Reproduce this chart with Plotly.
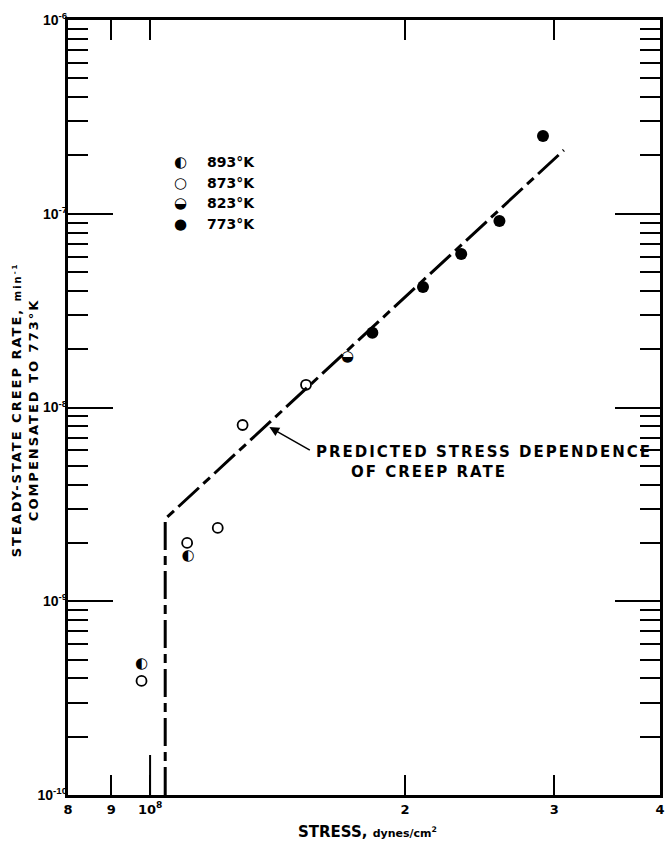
import math
import plotly.graph_objects as go

# ---------------- data ----------------
stress_893 = [9.77e7, 1.109e8]
rate_893 = [4.74e-10, 1.71e-9]

stress_873 = [9.77e7, 1.106e8, 1.202e8, 1.286e8, 1.528e8]
rate_873 = [3.88e-10, 2.00e-9, 2.39e-9, 8.12e-9, 1.31e-8]

stress_823 = [1.711e8]
rate_823 = [1.82e-8]

stress_773 = [1.830e8, 2.10e8, 2.33e8, 2.585e8, 2.91e8]
rate_773 = [2.43e-8, 4.19e-8, 6.2e-8, 9.18e-8, 2.52e-7]

pred_stress = [1.042e8, 1.042e8, 3.08e8]
pred_rate = [1e-10, 2.66e-9, 2.13e-7]

x_tickvals = [8e7, 9e7, 1e8, 2e8, 3e8, 4e8]
x_ticktext = ["8", "9", "10<sup>8</sup>", "2", "3", "4"]
y_tickvals = [1e-10, 1e-9, 1e-8, 1e-7, 1e-6]
y_ticktext = ["10<sup>-10</sup>", "10<sup>-9</sup>", "10<sup>-8</sup>", "10<sup>-7</sup>", "10<sup>-6</sup>"]
y_minor = [k * 10.0 ** e for e in range(-10, -6) for k in range(2, 10)]

legend_labels = ["893°K", "873°K", "823°K", "773°K"]
legend_symbols = ["◐", "○", "◒", "●"]

# ---------------- layout geometry ----------------
W, H = 668, 845
ML, MR, MT, MB = 68, 3, 20, 50
PW, PH = W - ML - MR, H - MT - MB

def px(x):
    return (x - ML) / PW

def py(y):
    return (H - MB - y) / PH

FONT = "DejaVu Sans"
NARROW = "Liberation Sans Narrow, Liberation Sans, DejaVu Sans Condensed"

fig = go.Figure()

# predicted line
fig.add_trace(go.Scatter(
    x=pred_stress, y=pred_rate, mode="lines",
    line=dict(color="black", width=3, dash="28px,6px,9px,6px"),
    hoverinfo="skip", showlegend=False))

# open circles 873 K
fig.add_trace(go.Scatter(
    x=stress_873, y=rate_873, mode="markers",
    marker=dict(symbol="circle-open", size=10, color="black", line=dict(width=1.8, color="black")),
    showlegend=False))

# filled 773 K
fig.add_trace(go.Scatter(
    x=stress_773, y=rate_773, mode="markers",
    marker=dict(symbol="circle", size=12, color="black"),
    showlegend=False))

# half-filled 893 K (left half black)
fig.add_trace(go.Scatter(
    x=stress_893, y=rate_893, mode="text", text=["◐"] * len(stress_893),
    textposition="middle center",
    textfont=dict(family=FONT, size=15, color="black"),
    showlegend=False))

# half-filled 823 K (lower half black)
fig.add_trace(go.Scatter(
    x=stress_823, y=rate_823, mode="text", text=["◒"] * len(stress_823),
    textposition="middle center",
    textfont=dict(family=FONT, size=15, color="black"),
    showlegend=False))

annotations = []
# legend
for i, (sym, lab) in enumerate(zip(legend_symbols, legend_labels)):
    yy = 162 + i * 20.5
    annotations.append(dict(x=px(181), y=py(yy), xref="paper", yref="paper", text=sym,
                            showarrow=False, xanchor="center", yanchor="middle",
                            font=dict(family=FONT, size=15, color="black")))
    annotations.append(dict(x=px(206), y=py(yy), xref="paper", yref="paper", text=lab,
                            showarrow=False, xanchor="left", yanchor="middle",
                            font=dict(family=FONT, size=14, color="black", weight="bold")))

# arrow annotation
annotations.append(dict(x=math.log10(1.383e8), y=math.log10(7.93e-9), xref="x", yref="y",
                        ax=42, ay=24, axref="pixel", ayref="pixel", text="",
                        showarrow=True, arrowhead=2, arrowsize=1.3, arrowwidth=1.5,
                        arrowcolor="black"))
annotations.append(dict(x=px(316), y=py(452), xref="paper", yref="paper",
                        text="<span style='letter-spacing:2px'>PREDICTED STRESS DEPENDENCE</span>",
                        showarrow=False, xanchor="left", yanchor="middle",
                        font=dict(family=FONT, size=15, color="black", weight="bold")))
annotations.append(dict(x=px(351), y=py(472), xref="paper", yref="paper",
                        text="<span style='letter-spacing:2px'>OF CREEP RATE</span>",
                        showarrow=False, xanchor="left", yanchor="middle",
                        font=dict(family=FONT, size=15, color="black", weight="bold")))

# axis titles
annotations.append(dict(x=px(25), y=py(410), xref="paper", yref="paper",
                        text="<span style='letter-spacing:2px'>STEADY-STATE CREEP RATE, <span style='font-size:10px'>min<sup>-1</sup></span></span><br><span style='letter-spacing:2px'>COMPENSATED TO 773°K</span>",
                        showarrow=False, textangle=-90, xanchor="center", yanchor="middle",
                        font=dict(family=FONT, size=13, color="black", weight="bold")))
annotations.append(dict(x=px(370), y=py(832), xref="paper", yref="paper",
                        text="STRESS, <span style='font-size:11px'>dynes/cm<sup>2</sup></span>",
                        showarrow=False, xanchor="center", yanchor="middle",
                        font=dict(family=FONT, size=15, color="black", weight="bold")))

shapes = [
    # longer tick at 10^8 on bottom axis
    dict(type="line", xref="x", yref="paper", x0=1e8, x1=1e8, y0=0, y1=40,
         ysizemode="pixel", yanchor=0, line=dict(color="black", width=2)),
]

fig.update_layout(
    width=W, height=H,
    margin=dict(l=ML, r=MR, t=MT, b=MB),
    paper_bgcolor="white", plot_bgcolor="white",
    font=dict(family=FONT, size=13, color="black"),
    showlegend=False,
    annotations=annotations,
    shapes=shapes,
    xaxis=dict(type="log", range=[math.log10(8e7), math.log10(4e8)],
               tickmode="array", tickvals=x_tickvals, ticktext=x_ticktext,
               ticks="inside", ticklen=20, tickwidth=2, tickcolor="black",
               showline=True, linewidth=3, linecolor="black", mirror="ticks",
               showgrid=False, zeroline=False,
               tickfont=dict(family=FONT, size=13, color="black", weight="bold")),
    yaxis=dict(type="log", range=[-10, -6],
               tickmode="array", tickvals=y_tickvals, ticktext=y_ticktext,
               ticks="inside", ticklen=45, tickwidth=2, tickcolor="black",
               ticklabelstandoff=-5,
               minor=dict(tickmode="array", tickvals=y_minor, ticks="inside",
                          ticklen=20, tickwidth=2, tickcolor="black", showgrid=False),
               showline=True, linewidth=3, linecolor="black", mirror="ticks",
               showgrid=False, zeroline=False,
               tickfont=dict(family=NARROW, size=14, color="black", weight="bold")),
)

fig.write_html("out.html")
